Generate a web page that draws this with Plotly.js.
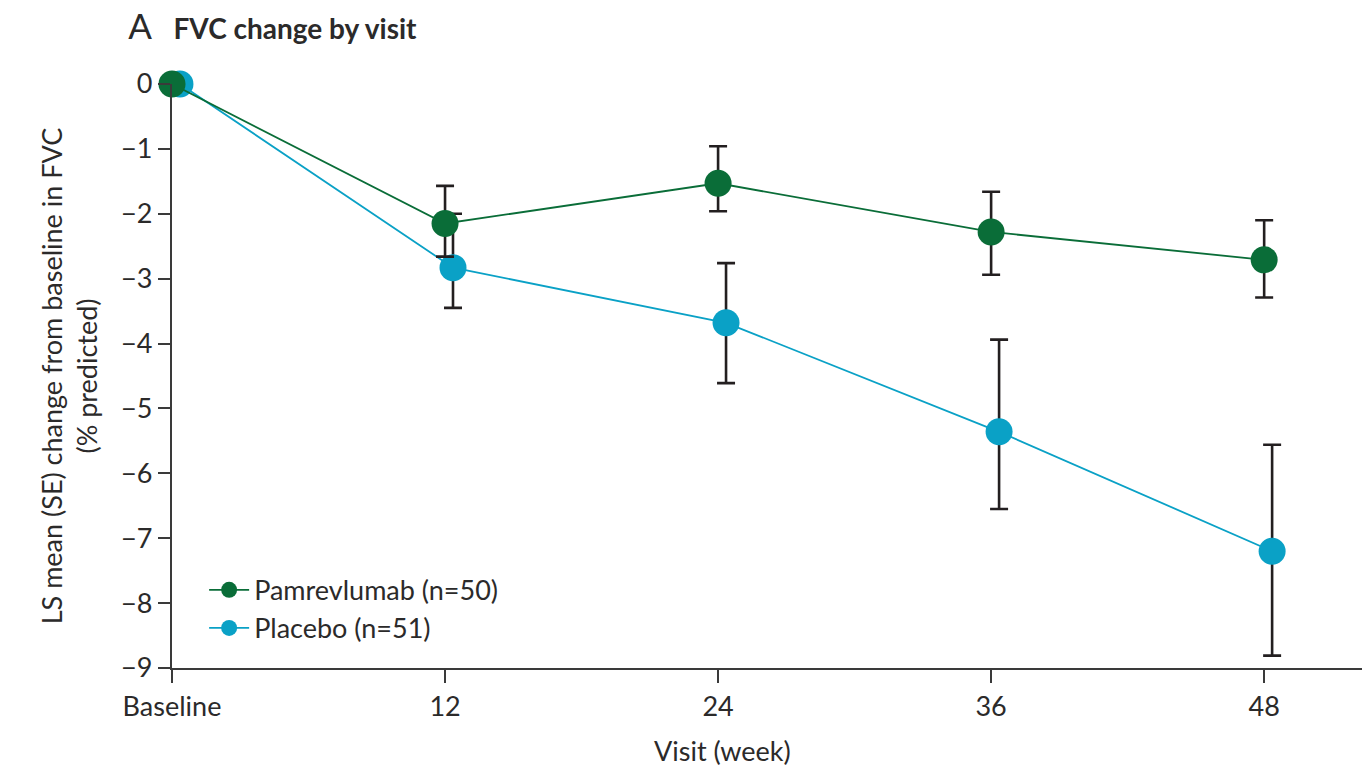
<!DOCTYPE html>
<html>
<head>
<meta charset="utf-8">
<script src="https://cdn.plot.ly/plotly-3.0.1.min.js"></script>
<style>html,body{margin:0;padding:0;background:#fff;}</style>
</head>
<body>
<div id="chart" style="width:1365px;height:772px;"></div>
<script>
// Visits (weeks) and tick labels
const visits = [0, 12, 24, 36, 48];
const visitLabels = ['Baseline', '12', '24', '36', '48'];

// Pamrevlumab LS mean change and SE (upper / lower as read)
const pamName = 'Pamrevlumab (n=50)';
const pamMean = [0, -2.15, -1.53, -2.28, -2.71];
const pamSEUp = [0, 0.58, 0.57, 0.62, 0.61];
const pamSEDown = [0, 0.51, 0.43, 0.66, 0.58];

// Placebo LS mean change and SE
const plaName = 'Placebo (n=51)';
const plaMean = [0, -2.83, -3.68, -5.36, -7.20];
const plaSEUp = [0, 0.83, 0.92, 1.42, 1.64];
const plaSEDown = [0, 0.62, 0.93, 1.19, 1.61];

const yTicks = [0, -1, -2, -3, -4, -5, -6, -7, -8, -9];

const FONT = 'Lato, sans-serif';
const dodge = 0.35; // small horizontal offset of the placebo markers
const green = '#0a6d38';
const blue = '#0aa1c6';
const ink = '#231f20';
const textCol = '#2b2a2a';

function errBar(up, down) {
  return {type: 'data', symmetric: false, array: up, arrayminus: down,
          color: ink, thickness: 2.6, width: 9};
}

const traces = [
  {
    x: visits.map(v => v + dodge), y: plaMean, name: plaName,
    mode: 'lines+markers', type: 'scatter', legendrank: 2,
    line: {color: blue, width: 1.8},
    marker: {color: blue, size: 27},
    error_y: errBar(plaSEUp, plaSEDown),
    cliponaxis: false
  },
  {
    x: visits, y: pamMean, name: pamName,
    mode: 'lines+markers', type: 'scatter', legendrank: 1,
    line: {color: green, width: 1.8},
    marker: {color: green, size: 27},
    error_y: errBar(pamSEUp, pamSEDown),
    cliponaxis: false
  }
];

const layout = {
  width: 1365, height: 772,
  margin: {l: 172, r: 3, t: 84, b: 104},
  paper_bgcolor: '#fff', plot_bgcolor: '#fff',
  font: {family: FONT, size: 27, color: textCol},
  showlegend: true,
  legend: {
    x: 0.027, y: 0.175, xanchor: 'left', yanchor: 'top',
    bgcolor: 'rgba(0,0,0,0)', font: {family: FONT, size: 27, color: textCol},
    itemwidth: 40, tracegroupgap: 4
  },
  title: {
    text: '<span style="font-size:35px;font-weight:normal">A</span>   <b>FVC change by visit</b>',
    x: 0.094, xanchor: 'left', y: 0.962, yanchor: 'middle',
    font: {family: FONT, size: 28, color: textCol}
  },
  annotations: [{
    text: 'Visit (week)', xref: 'paper', yref: 'paper',
    x: 0.463, y: -0.142, xanchor: 'center', yanchor: 'middle', showarrow: false,
    font: {family: FONT, size: 27, color: textCol}
  }],
  xaxis: {
    range: [0, 52.3],
    tickmode: 'array', tickvals: visits, ticktext: visitLabels,
    showgrid: false, zeroline: false,
    showline: true, linecolor: '#3a3a3a', linewidth: 2.2,
    ticks: 'outside', ticklen: 13, tickwidth: 2, tickcolor: '#3a3a3a',
    ticklabelstandoff: 0
  },
  yaxis: {
    range: [-9, 0],
    tickmode: 'array', tickvals: yTicks,
    showgrid: false, zeroline: false,
    showline: true, linecolor: '#3a3a3a', linewidth: 2.2,
    ticks: 'outside', ticklen: 12, tickwidth: 2, tickcolor: '#3a3a3a',
    ticklabelstandoff: 0,
    title: {text: 'LS mean (SE) change from baseline in FVC<br>(% predicted)', standoff: 16,
            font: {family: FONT, size: 27, color: textCol}}
  }
};

Plotly.newPlot('chart', traces, layout, {displayModeBar: false, staticPlot: true});
</script>
</body>
</html>
